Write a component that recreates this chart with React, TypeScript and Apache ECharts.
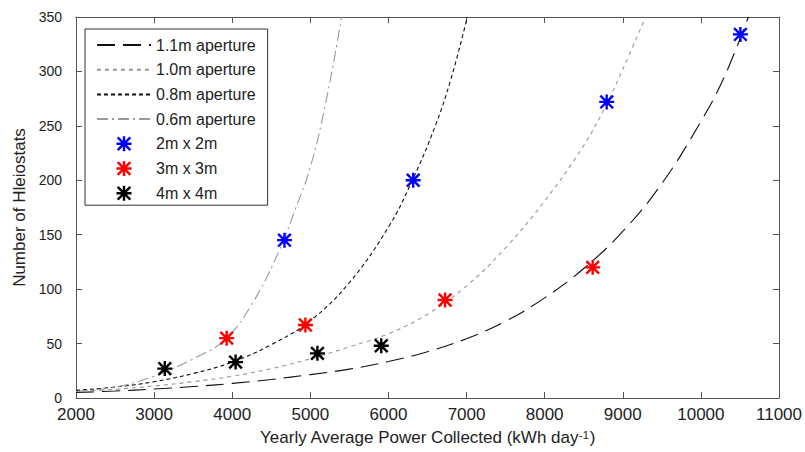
import React, { useEffect, useRef } from "react";
import * as echarts from "echarts";

// ---- data ----
const ap11X = [2000, 2500, 3000, 3500, 4000, 4500, 5000, 5500, 6000, 6500, 7000, 7500, 8000, 8500, 9000, 9500, 10000, 10300, 10608];
const ap11Y = [5, 6.4, 8.2, 10.5, 13.4, 17, 21.5, 26.5, 33.5, 42.5, 54.5, 70.5, 92, 119, 153, 197, 254, 295, 350];

const ap10X = [2000, 2500, 3000, 3500, 4000, 4500, 5000, 5500, 6000, 6500, 7000, 7500, 8000, 8500, 8800, 9000, 9293];
const ap10Y = [6, 8, 11, 15, 20, 27, 36, 47, 59, 77, 103, 138, 181, 232, 271, 302, 350];

const ap08X = [2000, 2500, 3000, 3500, 4000, 4500, 5000, 5500, 6000, 6300, 6600, 6800, 7010];
const ap08Y = [7, 10, 15, 22.5, 33, 49, 71, 106, 157, 199, 250, 293, 350];

const ap06X = [2000, 2500, 3000, 3500, 3900, 4250, 4600, 4800, 5000, 5200, 5400];
const ap06Y = [6, 10, 20, 36, 53, 86, 135, 172, 212, 272, 350];

const h2x2X = [4669, 6317, 8794, 10506];
const h2x2Y = [145, 200, 272, 334];
const h3x3X = [3929, 4937, 6725, 8615];
const h3x3Y = [55, 67, 90, 120];
const h4x4X = [3137, 4043, 5091, 5908];
const h4x4Y = [27, 33, 41, 48];

const lineNames = ["1.1m aperture", "1.0m aperture", "0.8m aperture", "0.6m aperture"];
const markerNames = ["2m x 2m", "3m x 3m", "4m x 4m"];

const xTicks = { min: 2000, max: 11000, interval: 1000 };
const yTicks = { min: 0, max: 350, interval: 50 };

const zip = (xs: number[], ys: number[]) => xs.map((x, i) => [x, ys[i]]);

const ASTERISK =
  "path://M8.4 0H11.6V20H8.4Z M0 8.4H20V11.6H0Z M2.7 0.4L19.6 17.3L17.3 19.6L0.4 2.7Z M17.3 0.4L19.6 2.7L2.7 19.6L0.4 17.3Z";

const FONT = "'Liberation Sans', Arial, sans-serif";
const AXIS_COLOR = "#555";
const TEXT_COLOR = "#222";

export default function App() {
  const ref = useRef<HTMLDivElement>(null);

  useEffect(() => {
    if (!ref.current) return;
    const chart = echarts.init(ref.current, undefined, { renderer: "svg" });

    const lineSeries = (name: string, xs: number[], ys: number[], color: string, dash: number[]) => ({
      name,
      type: "line",
      data: zip(xs, ys),
      showSymbol: false,
      symbol: "none",
      smooth: 0.4,
      clip: true,
      lineStyle: { color, width: 1.1, type: dash },
      itemStyle: { color },
      xAxisIndex: 0,
      yAxisIndex: 0,
      z: 2,
    });

    const scatterSeries = (name: string, xs: number[], ys: number[], color: string) => ({
      name,
      type: "scatter",
      data: zip(xs, ys),
      symbol: ASTERISK,
      symbolSize: 15,
      symbolKeepAspect: true,
      itemStyle: { color, opacity: 1 },
      xAxisIndex: 0,
      yAxisIndex: 0,
      z: 5,
    });

    const baseAxisLine = { show: true, onZero: false, lineStyle: { color: AXIS_COLOR, width: 1 } };
    const baseTick = { show: true, inside: true, length: 6, lineStyle: { color: AXIS_COLOR, width: 1 } };
    const hiddenIcon = { opacity: 0, color: "rgba(0,0,0,0)", borderWidth: 0 };

    chart.setOption({
      animation: false,
      backgroundColor: "#fff",
      textStyle: { fontFamily: FONT },
      grid: { left: 76, right: 23, top: 17, bottom: 54, containLabel: false },
      legend: {
        left: 85,
        top: 29,
        orient: "vertical",
        itemWidth: 54,
        itemHeight: 15,
        itemGap: 8.7,
        padding: [8, 12, 4, 11],
        borderColor: "#333",
        borderWidth: 1,
        backgroundColor: "#fff",
        textStyle: { fontSize: 16, color: TEXT_COLOR, fontFamily: FONT, lineHeight: 15 },
        data: [
          ...lineNames.map((n) => ({ name: n, itemStyle: hiddenIcon })),
          ...markerNames.map((n) => ({ name: n })),
        ],
        selectedMode: false,
      },
      xAxis: [
        {
          type: "value",
          position: "bottom",
          ...xTicks,
          axisLine: baseAxisLine,
          axisTick: baseTick,
          splitLine: { show: false },
          axisLabel: {
            fontSize: 17,
            color: TEXT_COLOR,
            margin: 8,
            fontFamily: FONT,
            formatter: (v: number) => String(v),
          },
          name: "Yearly Average Power Collected (kWh day{sup|-1})",
          nameLocation: "middle",
          nameGap: 31,
          nameTextStyle: {
            fontSize: 17,
            color: TEXT_COLOR,
            fontFamily: FONT,
            rich: { sup: { fontSize: 11, verticalAlign: "top", color: TEXT_COLOR, fontFamily: FONT, padding: [0, 1, 0, 0] } },
          },
        },
        {
          type: "value",
          position: "top",
          ...xTicks,
          axisLine: baseAxisLine,
          axisTick: baseTick,
          splitLine: { show: false },
          axisLabel: { show: false },
        },
      ],
      yAxis: [
        {
          type: "value",
          position: "left",
          ...yTicks,
          axisLine: baseAxisLine,
          axisTick: baseTick,
          splitLine: { show: false },
          axisLabel: {
            fontSize: 14,
            color: TEXT_COLOR,
            margin: 14,
            fontFamily: FONT,
            formatter: (v: number) => String(v),
          },
          name: "Number of Hleiostats",
          nameLocation: "middle",
          nameGap: 46,
          nameRotate: 90,
          nameTextStyle: { fontSize: 17, color: TEXT_COLOR, fontFamily: FONT },
        },
        {
          type: "value",
          position: "right",
          ...yTicks,
          axisLine: baseAxisLine,
          axisTick: baseTick,
          splitLine: { show: false },
          axisLabel: { show: false },
        },
      ],
      series: [
        lineSeries(lineNames[0], ap11X, ap11Y, "#111", [18, 8]),
        lineSeries(lineNames[1], ap10X, ap10Y, "#999", [4, 4]),
        lineSeries(lineNames[2], ap08X, ap08Y, "#111", [4, 3]),
        lineSeries(lineNames[3], ap06X, ap06Y, "#999", [11, 4, 2, 4]),
        scatterSeries(markerNames[0], h2x2X, h2x2Y, "#0000ff"),
        scatterSeries(markerNames[1], h3x3X, h3x3Y, "#ff0000"),
        scatterSeries(markerNames[2], h4x4X, h4x4Y, "#000000"),
      ],
    });

    return () => chart.dispose();
  }, []);

  return (
    <div
      ref={ref}
      style={{ position: "fixed", left: 0, top: 0, width: 805, height: 452, background: "#fff" }}
    />
  );
}
